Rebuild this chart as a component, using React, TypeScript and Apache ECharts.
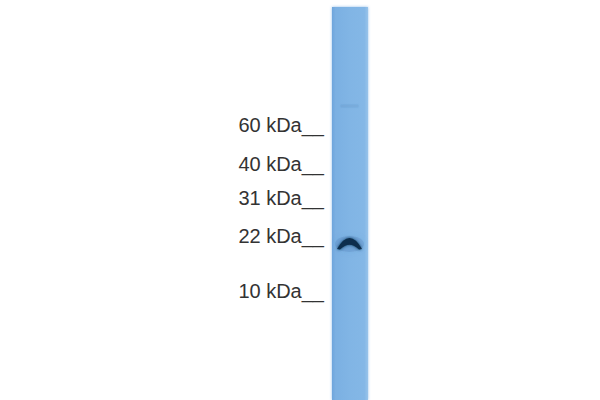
import React, { useRef, useEffect } from "react";
import * as echarts from "echarts";

// marker ladder: labels and migration distance (px from top of canvas)
const markerLabels = ["60 kDa", "40 kDa", "31 kDa", "22 kDa", "10 kDa"];
const markerPositions = [123.5, 162.5, 197, 235, 289.5];

// the single sample lane
const laneCenter = 350;
const laneWidth = 36;
const laneTop = 7;
const laneBottom = 400;

// detected bands in the lane: migration, width, intensity
const bandPositions = [106, 243];
const bandWidths = [18, 25];
const bandIntensities = [0.1, 1];

function renderLane(params: any, api: any) {
  const tl = api.coord([api.value(0) - api.value(1) / 2, api.value(2)]);
  const br = api.coord([api.value(0) + api.value(1) / 2, api.value(3)]);
  return {
    type: "rect",
    shape: { x: tl[0], y: tl[1], width: br[0] - tl[0], height: br[1] - tl[1] },
    style: {
      fill: new echarts.graphic.LinearGradient(0, 0, 1, 0, [
        { offset: 0, color: "#6ea5dc" },
        { offset: 0.1, color: "#7bb0e2" },
        { offset: 0.5, color: "#81b5e5" },
        { offset: 0.9, color: "#84b7e6" },
        { offset: 1, color: "#98c3ea" },
      ]),
      shadowBlur: 3,
      shadowColor: "rgba(120,175,228,0.8)",
    },
  };
}

function renderBand(params: any, api: any) {
  const y = api.value(0);
  const w = api.value(1);
  const k = api.value(2);
  const c = api.coord([laneCenter - 0.5, y]);
  const half = (api.coord([laneCenter + w / 2, y])[0] - api.coord([laneCenter - w / 2, y])[0]) / 2;
  const cx = c[0];
  const cy = c[1];
  if (k < 0.5) {
    return {
      type: "rect",
      shape: { x: cx - half, y: cy - 1.5, width: half * 2, height: 3 },
      style: { fill: `rgba(50,90,150,${k})`, shadowBlur: 3, shadowColor: "rgba(50,90,150,0.2)" },
    };
  }
  const d =
    `M${cx - half} ${cy + 6} Q${cx} ${cy - 16} ${cx + half} ${cy + 6} ` +
    `L${cx + half - 3} ${cy + 6.5} Q${cx} ${cy - 3} ${cx - half + 3} ${cy + 6.5} Z`;
  return {
    type: "group",
    children: [
      {
        type: "ellipse",
        shape: { cx, cy: cy + 1, rx: half + 2, ry: 8 },
        style: { fill: "rgba(60,110,170,0.22)", shadowBlur: 6, shadowColor: "rgba(60,110,170,0.4)" },
      },
      {
        type: "path",
        shape: { pathData: d },
        style: { fill: "#0f2e4d", shadowBlur: 3, shadowColor: "rgba(16,48,79,0.9)" },
      },
    ],
  };
}

function renderMarker(params: any, api: any) {
  const p = api.coord([324, api.value(0)]);
  return {
    type: "text",
    x: p[0],
    y: p[1] + 1,
    style: {
      text: markerLabels[params.dataIndex] + "__",
      align: "right",
      verticalAlign: "middle",
      fill: "#333333",
      font: '20px "Liberation Sans", Arial, sans-serif',
      shadowBlur: 1.5,
      shadowColor: "rgba(0,0,0,0.45)",
    },
  };
}

export default function App() {
  const ref = useRef<HTMLDivElement>(null);

  useEffect(() => {
    if (!ref.current) return;
    const chart = echarts.init(ref.current, undefined, { renderer: "svg" });
    chart.setOption({
      animation: false,
      backgroundColor: "#ffffff",
      grid: { left: 0, right: 0, top: 0, bottom: 0 },
      xAxis: { type: "value", min: 0, max: 600, show: false },
      yAxis: { type: "value", min: 0, max: 400, inverse: true, show: false },
      series: [
        {
          type: "custom",
          name: "lane",
          renderItem: renderLane,
          data: [[laneCenter, laneWidth, laneTop, laneBottom]],
          silent: true,
        },
        {
          type: "custom",
          name: "bands",
          renderItem: renderBand,
          data: bandPositions.map((y, i) => [y, bandWidths[i], bandIntensities[i]]),
          silent: true,
        },
        {
          type: "custom",
          name: "markers",
          renderItem: renderMarker,
          data: markerPositions.map((y) => [y]),
          silent: true,
        },
      ],
    });
    return () => chart.dispose();
  }, []);

  return (
    <div
      ref={ref}
      style={{ position: "fixed", left: 0, top: 0, width: 600, height: 400 }}
    />
  );
}
